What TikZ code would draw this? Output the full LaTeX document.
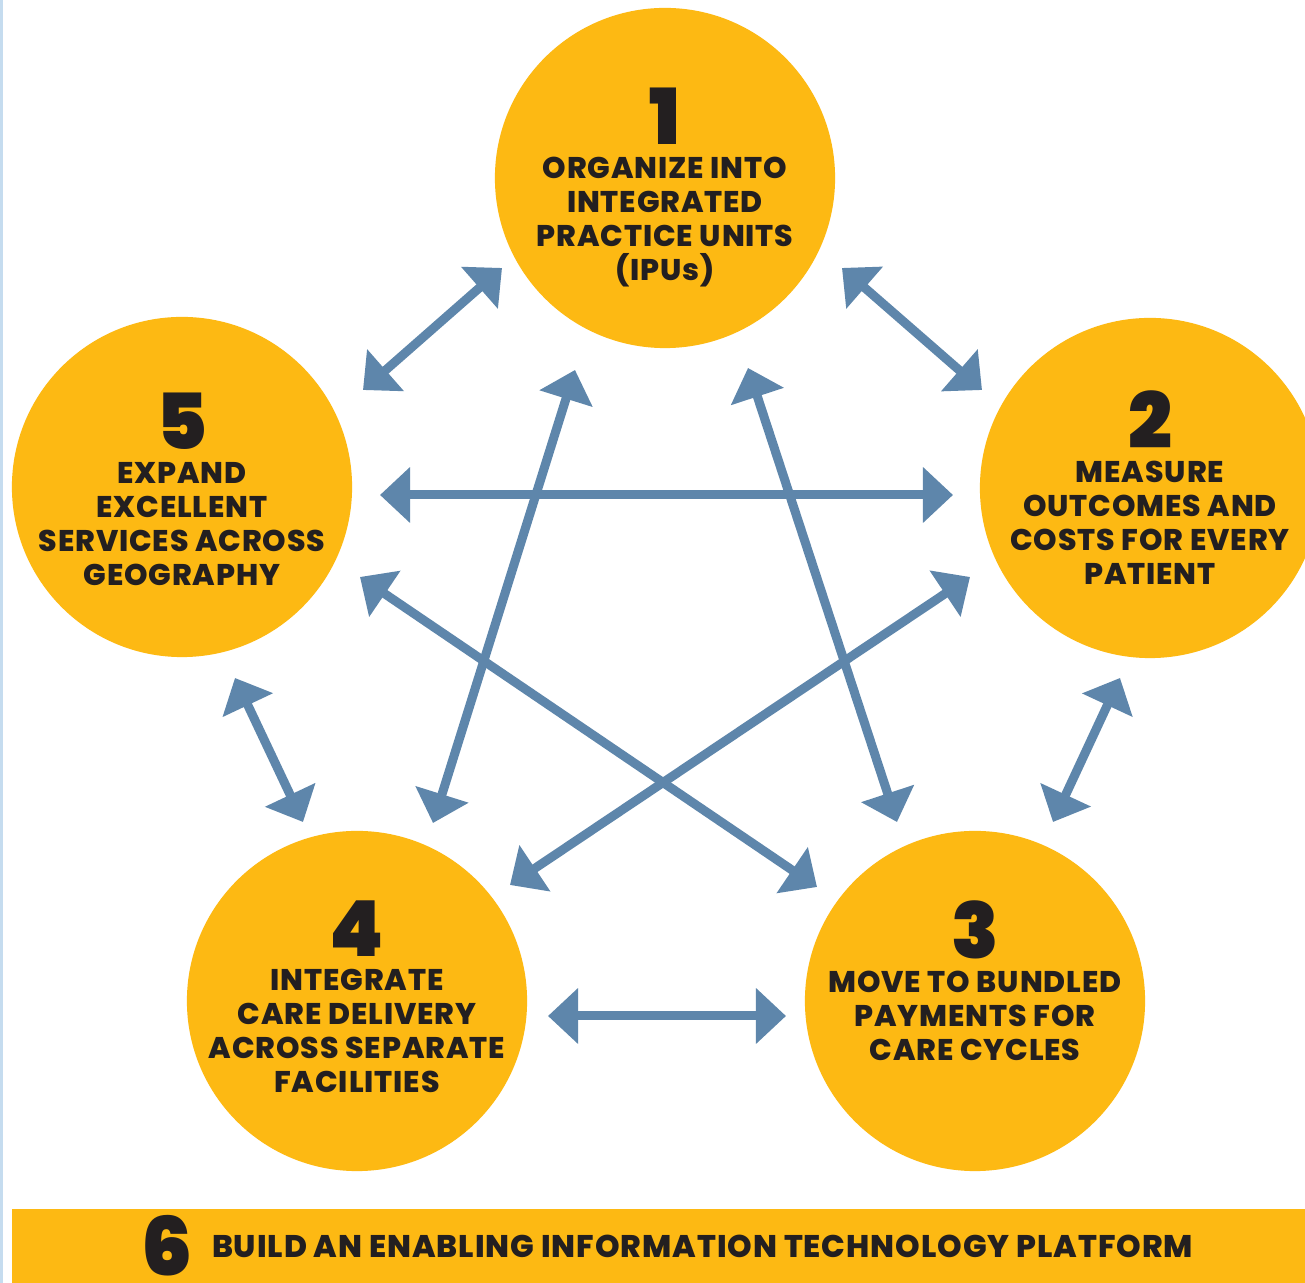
\documentclass[tikz,border=0pt]{standalone}
\usepackage{fontspec}
\usetikzlibrary{positioning,arrows.meta}
\newfontfamily\numfont{Poppins Black}
\newfontfamily\lblfont{Poppins ExtraBold}[LetterSpace=3]
\newcommand\discnum[1]{{\numfont\fontsize{22}{22}\selectfont#1}}
\definecolor{discyellow}{HTML}{FDB913}
\definecolor{arrowblue}{HTML}{5E86AB}
\definecolor{inkblack}{HTML}{231F20}
\definecolor{edgeblue}{HTML}{C5DCEF}

\begin{document}
\begin{tikzpicture}[x=0.01cm,y=-0.01cm,disc/.style={circle,fill=discyellow,inner sep=0pt,minimum size=3.4cm},lbl/.style={inner sep=0pt,align=center,text=inkblack,font=\lblfont\fontsize{8.5}{9.67}\selectfont},link/.style={draw=arrowblue,line width=0.9mm,{Triangle[length=3mm,width=5.4mm]}-{Triangle[length=3mm,width=5.4mm]}}]
		\clip (0,0) rectangle (1305,1283);
		\fill[white] (0,0) rectangle (1305,1283);
		\fill[edgeblue] (0,0) rectangle (3,1283);

		% the five circles
		\node[disc]								(c1)	at (665,178)	{};
		\node[disc]								(c2)	at (1150,488)	{};
		\node[disc]								(c3)	at (975,1001)	{};
		\node[disc]								(c4)	at (357,1001)	{};
		\node[disc]								(c5)	at (182,487)	{};

		\node[lbl,anchor=north]					(t1)	at (665,87)		{\discnum{1}\\ORGANIZE INTO\\INTEGRATED\\PRACTICE UNITS\\(IPUs)};
		\node[lbl,anchor=north]					(t2)	at (1150,390)	{\discnum{2}\\MEASURE\\OUTCOMES AND\\COSTS FOR EVERY\\PATIENT};
		\node[lbl,anchor=north]					(t3)	at (975,900)	{\discnum{3}\\MOVE TO BUNDLED\\PAYMENTS FOR\\CARE CYCLES};
		\node[lbl,anchor=north]					(t4)	at (357,900)	{\discnum{4}\\INTEGRATE\\CARE DELIVERY\\ACROSS SEPARATE\\FACILITIES};
		\node[lbl,anchor=north]					(t5)	at (182,392)	{\discnum{5}\\EXPAND\\EXCELLENT\\SERVICES ACROSS\\GEOGRAPHY};

		% bottom bar
		\fill[discyellow] (12,1209) rectangle (1305,1283);
		\node[lbl,font=\numfont\fontsize{23}{23}\selectfont]	(n6)	at (167,1246)	{6};
		\node[lbl,font=\lblfont\fontsize{8.9}{10}\selectfont,node distance=1.8mm,right=of n6]	(t6)	{BUILD AN ENABLING INFORMATION TECHNOLOGY PLATFORM};

		% arrow ends
		\coordinate (p15) at (502,268);
		\coordinate (p51) at (363,390);
		\coordinate (p12) at (842,268);
		\coordinate (p21) at (982,390);
		\coordinate (p52) at (380,495);
		\coordinate (p25) at (953,495);
		\coordinate (p14) at (575,370);
		\coordinate (p41) at (433,823);
		\coordinate (p13) at (748,368);
		\coordinate (p31) at (897,822);
		\coordinate (p53) at (360,577);
		\coordinate (p35) at (817,887);
		\coordinate (p24) at (970,577);
		\coordinate (p42) at (510,885);
		\coordinate (p54) at (235,678);
		\coordinate (p45) at (303,822);
		\coordinate (p23) at (1120,678);
		\coordinate (p32) at (1053,822);
		\coordinate (p43) at (548,1016);
		\coordinate (p34) at (786,1016);

		\draw[link] (p15) -- (p51);
		\draw[link] (p12) -- (p21);
		\draw[link] (p52) -- (p25);
		\draw[link] (p14) -- (p41);
		\draw[link] (p13) -- (p31);
		\draw[link] (p53) -- (p35);
		\draw[link] (p24) -- (p42);
		\draw[link] (p54) -- (p45);
		\draw[link] (p23) -- (p32);
		\draw[link] (p43) -- (p34);
	\end{tikzpicture}
\end{document}
